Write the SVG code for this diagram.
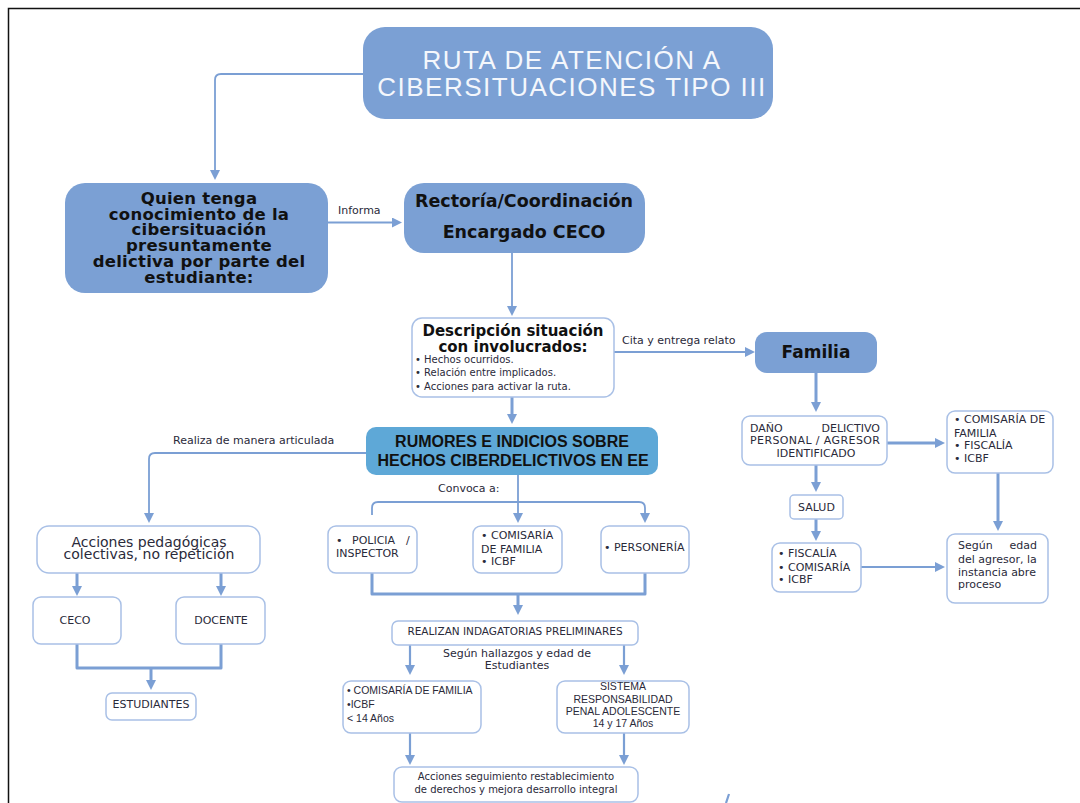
<svg xmlns="http://www.w3.org/2000/svg" width="1080" height="803" viewBox="0 0 1080 803">
<style>
.fb{fill:#7ba0d4;}
.wb{fill:#ffffff;stroke:#a9c0e6;stroke-width:1.5;}
.c{fill:none;stroke:#7b9fd4;stroke-linejoin:round;}
.t1{stroke-width:1.8;}
.t2{stroke-width:2.2;}
.t3{stroke-width:3;}
.ttl{font-family:"Liberation Sans",Arial,sans-serif;font-size:26px;letter-spacing:1.5px;fill:#f4f7fc;text-anchor:middle;}
.hb{font-family:"DejaVu Sans",sans-serif;font-weight:bold;fill:#111;text-anchor:middle;}
.q{font-size:16.5px;letter-spacing:0.25px;}
.rb{font-family:"Liberation Sans",Arial,sans-serif;font-weight:bold;font-size:16px;fill:#111;text-anchor:middle;}
.s{font-family:"DejaVu Sans",sans-serif;font-size:11px;fill:#2a2a3a;}
.big{font-size:14px;}
.r105{font-size:10.5px;}
.sm{font-family:"DejaVu Sans",sans-serif;font-size:10px;fill:#2a2a3a;}
.n{font-family:"Liberation Sans",Arial,sans-serif;font-size:10.5px;fill:#2a2a3a;}
.mid{text-anchor:middle;}
.end{text-anchor:end;}
</style>
<defs>
<marker id="ah" viewBox="0 0 10 10" refX="2" refY="5" markerWidth="10" markerHeight="10" markerUnits="userSpaceOnUse" orient="auto">
<path d="M0,0 L10,5 L0,10 z" fill="#7b9fd4"/>
</marker>
</defs>
<rect x="8.5" y="8.5" width="1100" height="900" fill="none" stroke="#111" stroke-width="1.5"/>

<g id="connectors">
<path class="c t1" d="M363,74 H221 Q215,74 215,80 V172" marker-end="url(#ah)"/>
<path class="c t2" d="M328,222.5 H394" marker-end="url(#ah)"/>
<path class="c t1" d="M512,253 V308" marker-end="url(#ah)"/>
<path class="c t3" d="M512,397 V416" marker-end="url(#ah)"/>
<path class="c t1" d="M614,352 H747" marker-end="url(#ah)"/>
<path class="c t3" d="M816,373 V404" marker-end="url(#ah)"/>
<path class="c t3" d="M887,443 H937" marker-end="url(#ah)"/>
<path class="c t3" d="M998,473 V523" marker-end="url(#ah)"/>
<path class="c t3" d="M816,465 V484" marker-end="url(#ah)"/>
<path class="c t3" d="M816,519 V533" marker-end="url(#ah)"/>
<path class="c t1" d="M861,567 H937" marker-end="url(#ah)"/>
<path class="c t1" d="M366,453 H155 Q149,453 149,459 V515" marker-end="url(#ah)"/>
<path class="c t3" d="M77,573 V588" marker-end="url(#ah)"/>
<path class="c t3" d="M221,573 V588" marker-end="url(#ah)"/>
<path class="c t3" d="M77,644 V668 H221 V644"/>
<path class="c t3" d="M151,668 V682" marker-end="url(#ah)"/>
<path class="c t1" d="M518,475 V515" marker-end="url(#ah)"/>
<path class="c t1" d="M372,515 V508 Q372,502 378,502 H639 Q645,502 645,508 V515" marker-end="url(#ah)"/>
<path class="c t3" d="M372,573 V594 H645 V573"/>
<path class="c t3" d="M518,594 V607" marker-end="url(#ah)"/>
<path class="c t2" d="M410,645 V667" marker-end="url(#ah)"/>
<path class="c t2" d="M624,645 V667" marker-end="url(#ah)"/>
<path class="c t2" d="M410,733 V757" marker-end="url(#ah)"/>
<path class="c t2" d="M624,733 V757" marker-end="url(#ah)"/>
<path class="c t2" d="M729,794 L726,803"/>
<text class="s" x="338" y="214">Informa</text>
<text class="s" x="622" y="344">Cita y entrega relato</text>
<text class="s" x="173" y="444">Realiza de manera articulada</text>
<text class="s" x="438" y="492">Convoca a:</text>
<text class="s mid" x="517" y="657">Según hallazgos y edad de</text>
<text class="s mid" x="517" y="669">Estudiantes</text>
</g>

<g id="title">
<rect class="fb" x="363" y="27" width="410" height="92" rx="22"/>
<text class="ttl" x="572" y="69">RUTA DE ATENCIÓN A</text>
<text class="ttl" x="572" y="96">CIBERSITUACIONES TIPO III</text>
</g>

<g id="quien">
<rect class="fb" x="65" y="183" width="263" height="110" rx="20"/>
<text class="hb q" x="199" y="204">Quien tenga</text>
<text class="hb q" x="199" y="220">conocimiento de la</text>
<text class="hb q" x="199" y="235">cibersituación</text>
<text class="hb q" x="199" y="251">presuntamente</text>
<text class="hb q" x="199" y="267">delictiva por parte del</text>
<text class="hb q" x="199" y="283">estudiante:</text>
</g>

<g id="rectoria">
<rect class="fb" x="404" y="183" width="241" height="70" rx="20"/>
<text class="hb" font-size="17.5" x="524" y="207">Rectoría/Coordinación</text>
<text class="hb" font-size="17.5" x="524" y="238">Encargado CECO</text>
</g>

<g id="descripcion">
<rect class="wb" x="412" y="318" width="202" height="79" rx="10"/>
<text class="hb" font-size="15" x="513" y="336">Descripción situación</text>
<text class="hb" font-size="15" x="513" y="352">con involucrados:</text>
<text class="sm" x="415" y="363">• Hechos ocurridos.</text>
<text class="sm" x="415" y="376">• Relación entre implicados.</text>
<text class="sm" x="415" y="390">• Acciones para activar la ruta.</text>
</g>

<g id="familia">
<rect class="fb" x="755" y="332" width="122" height="41" rx="12"/>
<text class="hb" font-size="17" x="816" y="358">Familia</text>
</g>

<g id="dano">
<rect class="wb" x="742" y="416" width="145" height="49" rx="8"/>
<text class="s" x="750" y="432">DAÑO</text>
<text class="s end" x="880" y="432">DELICTIVO</text>
<text class="s" x="750" y="444" textLength="130">PERSONAL / AGRESOR</text>
<text class="s mid" x="816" y="457">IDENTIFICADO</text>
</g>

<g id="entidades-familia">
<rect class="wb" x="947" y="411" width="106" height="62" rx="8"/>
<text class="s" x="954" y="423">• COMISARÍA DE</text>
<text class="s" x="954" y="437">FAMILIA</text>
<text class="s" x="954" y="449">• FISCALÍA</text>
<text class="s" x="954" y="462">• ICBF</text>
</g>

<g id="segun-edad">
<rect class="wb" x="947" y="534" width="101" height="69" rx="8"/>
<text class="s" x="958" y="549">Según</text>
<text class="s end" x="1037" y="549">edad</text>
<text class="s" x="958" y="563">del agresor, la</text>
<text class="s" x="958" y="576">instancia abre</text>
<text class="s" x="958" y="588">proceso</text>
</g>

<g id="salud">
<rect class="wb" x="790" y="495" width="53" height="24" rx="4"/>
<text class="s mid" x="816.5" y="511">SALUD</text>
</g>

<g id="fiscalia">
<rect class="wb" x="772" y="543" width="89" height="49" rx="8"/>
<text class="s" x="778" y="557">• FISCALÍA</text>
<text class="s" x="778" y="571">• COMISARÍA</text>
<text class="s" x="778" y="583">• ICBF</text>
</g>

<g id="rumores">
<rect x="366" y="427" width="292" height="48" rx="10" fill="#5ea8d7"/>
<text class="rb" x="512" y="447">RUMORES E INDICIOS SOBRE</text>
<text class="rb" x="513" y="466">HECHOS CIBERDELICTIVOS EN EE</text>
</g>

<g id="acciones-pedagogicas">
<rect class="wb" x="37" y="526" width="223" height="47" rx="12"/>
<text class="s big mid" x="149" y="547">Acciones pedagógicas</text>
<text class="s big mid" x="149" y="559">colectivas, no repetición</text>
</g>

<g id="ceco">
<rect class="wb" x="33" y="597" width="88" height="47" rx="8"/>
<text class="s mid" x="75" y="624">CECO</text>
</g>

<g id="docente">
<rect class="wb" x="176" y="597" width="89" height="47" rx="8"/>
<text class="s mid" x="221" y="624">DOCENTE</text>
</g>

<g id="estudiantes">
<rect class="wb" x="106" y="693" width="90" height="27" rx="6"/>
<text class="s mid" x="151" y="708">ESTUDIANTES</text>
</g>

<g id="policia">
<rect class="wb" x="328" y="526" width="89" height="47" rx="8"/>
<text class="s" x="336" y="544">•</text>
<text class="s" x="352" y="544">POLICIA</text>
<text class="s" x="406" y="544">/</text>
<text class="s" x="336" y="557">INSPECTOR</text>
</g>

<g id="comisaria">
<rect class="wb" x="473" y="526" width="89" height="47" rx="8"/>
<text class="s" x="481" y="539">•</text>
<text class="s" x="491" y="539">COMISARÍA</text>
<text class="s" x="481" y="553">DE FAMILIA</text>
<text class="s" x="481" y="565">• ICBF</text>
</g>

<g id="personeria">
<rect class="wb" x="601" y="526" width="88" height="47" rx="8"/>
<text class="s" x="604" y="551">• PERSONERÍA</text>
</g>

<g id="realizan">
<rect class="wb" x="392" y="621" width="246" height="24" rx="6"/>
<text class="s r105 mid" x="515" y="635">REALIZAN INDAGATORIAS PRELIMINARES</text>
</g>

<g id="comisaria-menores">
<rect class="wb" x="343" y="681" width="138" height="52" rx="8"/>
<text class="n" x="347" y="694">• COMISARÍA DE FAMILIA</text>
<text class="n" x="347" y="708">•ICBF</text>
<text class="n" x="347" y="722">&lt; 14 Años</text>
</g>

<g id="srpa">
<rect class="wb" x="557" y="681" width="132" height="52" rx="8"/>
<text class="n mid" x="623" y="690">SISTEMA</text>
<text class="n mid" x="623" y="703">RESPONSABILIDAD</text>
<text class="n mid" x="623" y="715">PENAL  ADOLESCENTE</text>
<text class="n mid" x="623" y="727">14 y 17 Años</text>
</g>

<g id="seguimiento">
<rect class="wb" x="394" y="767" width="244" height="35" rx="8"/>
<text class="sm mid" x="516" y="780">Acciones seguimiento restablecimiento</text>
<text class="sm mid" x="516" y="793">de derechos y mejora desarrollo integral</text>
</g>
</svg>
